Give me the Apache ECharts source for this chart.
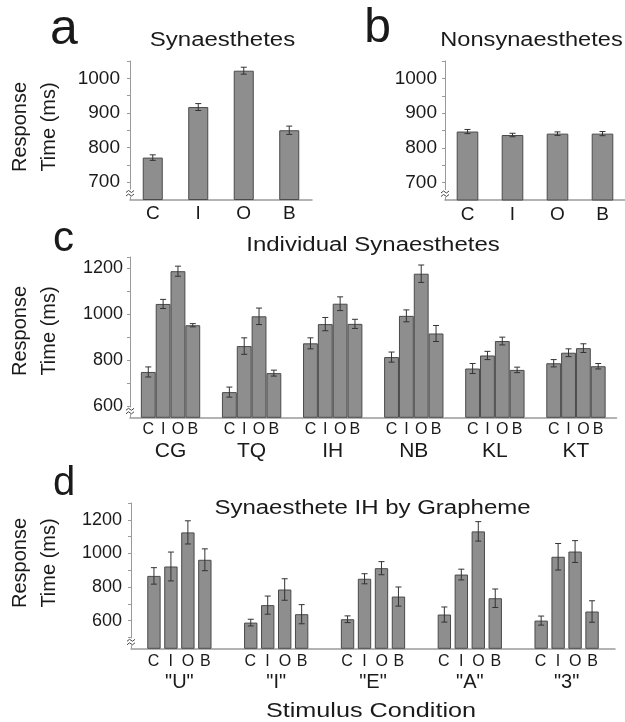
<!DOCTYPE html>
<html><head><meta charset="utf-8">
<script src="https://cdn.jsdelivr.net/npm/echarts@6/dist/echarts.min.js"></script>
<style>html,body{margin:0;padding:0;background:#fff}#c{width:625px;height:722px}</style>
</head><body><div id="c"></div>
<script>
// ---------- data ----------
const conditions = ['C', 'I', 'O', 'B'];
const synMeans = [771, 917, 1022, 850];
const synErrs = [8, 10, 10, 12];
const nonMeans = [847, 837, 841, 841];
const nonErrs = [6, 5, 5, 6];

const individuals = ['CG', 'TQ', 'IH', 'NB', 'KL', 'KT'];
const indMeansC = [748, 660, 873, 813, 763, 786];
const indMeansI = [1045, 861, 957, 993, 820, 832];
const indMeansO = [1188, 991, 1046, 1177, 883, 852];
const indMeansB = [952, 743, 958, 916, 757, 773];
const indErrsC = [22, 22, 24, 22, 22, 16];
const indErrsI = [20, 36, 29, 26, 18, 17];
const indErrsO = [22, 36, 30, 38, 17, 19];
const indErrsB = [7, 13, 20, 35, 12, 12];

const graphemes = ['"U"', '"I"', '"E"', '"A"', '"3"'];
const grMeansC = [866, 588, 608, 636, 600];
const grMeansI = [922, 692, 849, 874, 980];
const grMeansO = [1125, 785, 912, 1131, 1011];
const grMeansB = [962, 638, 743, 733, 654];
const grErrsC = [49, 20, 20, 45, 27];
const grErrsI = [86, 54, 30, 32, 79];
const grErrsO = [69, 64, 39, 58, 65];
const grErrsB = [65, 57, 57, 55, 64];

const ticksAB = [700, 750, 800, 850, 900, 950, 1000, 1050];
const labelsAB = [700, 800, 900, 1000];
const ticksC = [600, 700, 800, 900, 1000, 1100, 1200, 1250];
const labelsC = [600, 800, 1000, 1200];
const ticksD = [500, 600, 700, 800, 900, 1000, 1100, 1200, 1300];
const labelsD = [600, 800, 1000, 1200];

// ---------- styles ----------
const FONT = '"Liberation Sans", Arial, Helvetica, sans-serif';
const TXT = '#1a1a1a';
const BAR_FILL = '#8e8e8e';
const BAR_EDGE = '#4a4a4a';
const ERR_COL = '#333';
const AXIS_COL = '#9a9a9a';

function errorRender(n, frac, gap) {
  return function (params, api) {
    const cat = api.value(0), mean = api.value(1), err = api.value(2), k = api.value(3);
    const band = api.size([1, 0])[0];
    const w = band * frac;
    const off = (k - (n - 1) / 2) * w * (1 + gap);
    const x = api.coord([cat, mean])[0] + off;
    const top = api.coord([cat, mean + err])[1];
    const bot = api.coord([cat, mean - err])[1];
    const cap = 3;
    const st = { stroke: ERR_COL, lineWidth: 1 };
    return { type: 'group', children: [
      { type: 'line', shape: { x1: x, y1: top, x2: x, y2: bot }, style: st },
      { type: 'line', shape: { x1: x - cap, y1: top, x2: x + cap, y2: top }, style: st },
      { type: 'line', shape: { x1: x - cap, y1: bot, x2: x + cap, y2: bot }, style: st }
    ]};
  };
}

function breakRender(params, api) {
  const cs = params.coordSys;
  const x = cs.x, yb = cs.y + cs.height;
  const st = { stroke: '#444', lineWidth: 1, fill: null };
  return { type: 'group', children: [
    { type: 'rect', shape: { x: x - 2, y: yb - 10, width: 4, height: 7 }, style: { fill: '#fff' } },
    { type: 'polyline', shape: { points: [[x - 4, yb - 7], [x - 1.5, yb - 9], [x + 1.5, yb - 7], [x + 4, yb - 9]] }, style: st },
    { type: 'polyline', shape: { points: [[x - 4, yb - 3.5], [x - 1.5, yb - 5.5], [x + 1.5, yb - 3.5], [x + 4, yb - 5.5]] }, style: st }
  ]};
}

function yAxis(gi, min, max, ticks, labels, fs, margin) {
  return {
    gridIndex: gi, type: 'value', min: min, max: max,
    axisLine: { show: true, lineStyle: { color: AXIS_COL, width: 1 } },
    axisTick: { show: true, inside: false, length: 3, customValues: ticks, lineStyle: { color: AXIS_COL } },
    axisLabel: { customValues: labels, fontSize: fs, color: TXT, margin: margin, fontFamily: FONT,
      formatter: v => String(Math.round(v)) },
    splitLine: { show: false }
  };
}

function barStyle() {
  return { color: BAR_FILL, borderColor: BAR_EDGE, borderWidth: 1 };
}

const groupLabelC = conditions.map(c => '{l|' + c + '}').join('');

// error data
const errA = synMeans.map((m, i) => [i, m, synErrs[i], 0]);
const errB = nonMeans.map((m, i) => [i, m, nonErrs[i], 0]);
const indMeans = [indMeansC, indMeansI, indMeansO, indMeansB];
const indErrs = [indErrsC, indErrsI, indErrsO, indErrsB];
const errC = [];
indMeans.forEach((arr, k) => arr.forEach((m, i) => errC.push([i, m, indErrs[k][i], k])));
const grMeans = [grMeansC, grMeansI, grMeansO, grMeansB];
const grErrs = [grErrsC, grErrsI, grErrsO, grErrsB];
const errD = [];
grMeans.forEach((arr, k) => arr.forEach((m, i) => errD.push([i, m, grErrs[k][i], k])));

const FRAC_A = 0.44, FRAC_B = 0.48, FRAC_C = 0.183, GAP_C = 0, FRAC_D = 0.138, GAP_D = 0.27;

const series = [];
series.push({ type: 'bar', xAxisIndex: 0, yAxisIndex: 0, data: synMeans, barWidth: (FRAC_A * 100) + '%', itemStyle: barStyle() });
series.push({ type: 'bar', xAxisIndex: 1, yAxisIndex: 1, data: nonMeans, barWidth: (FRAC_B * 100) + '%', itemStyle: barStyle() });
indMeans.forEach((arr, k) => series.push({
  type: 'bar', name: conditions[k], xAxisIndex: 2, yAxisIndex: 2, data: arr,
  barWidth: (FRAC_C * 100) + '%', barGap: (GAP_C * 100) + '%', itemStyle: barStyle()
}));
grMeans.forEach((arr, k) => series.push({
  type: 'bar', name: conditions[k], xAxisIndex: 3, yAxisIndex: 3, data: arr,
  barWidth: (FRAC_D * 100) + '%', barGap: (GAP_D * 100) + '%', itemStyle: barStyle()
}));
series.push({ type: 'custom', xAxisIndex: 0, yAxisIndex: 0, z: 5, data: errA, encode: { x: 0, y: 1 }, renderItem: errorRender(1, FRAC_A, 0) });
series.push({ type: 'custom', xAxisIndex: 1, yAxisIndex: 1, z: 5, data: errB, encode: { x: 0, y: 1 }, renderItem: errorRender(1, FRAC_B, 0) });
series.push({ type: 'custom', xAxisIndex: 2, yAxisIndex: 2, z: 5, data: errC, encode: { x: 0, y: 1 }, renderItem: errorRender(4, FRAC_C, GAP_C) });
series.push({ type: 'custom', xAxisIndex: 3, yAxisIndex: 3, z: 5, data: errD, encode: { x: 0, y: 1 }, renderItem: errorRender(4, FRAC_D, GAP_D) });
[[0, 700], [1, 700], [2, 600], [3, 600]].forEach(([gi, v]) => series.push({
  type: 'custom', xAxisIndex: gi, yAxisIndex: gi, z: 6, data: [[0, v]], encode: { x: 0, y: 1 }, renderItem: breakRender, clip: false
}));

function xAxisSimple(gi, data) {
  return {
    gridIndex: gi, type: 'category', data: data,
    axisLine: { show: true, onZero: false, lineStyle: { color: AXIS_COL, width: 1.5 } },
    axisTick: { show: false },
    axisLabel: { fontSize: 19, color: TXT, margin: 5, fontFamily: FONT, interval: 0 }
  };
}
function xAxisGrouped(gi, data, lw, lh1, fs1, lh2, fs2, margin) {
  return {
    gridIndex: gi, type: 'category', data: data,
    axisLine: { show: true, onZero: false, lineStyle: { color: AXIS_COL, width: 1.5 } },
    axisTick: { show: false },
    axisLabel: {
      interval: 0, margin: margin, fontFamily: FONT,
      formatter: v => groupLabelC + '\n{g|' + v + '}',
      rich: {
        l: { fontSize: fs1, width: lw, align: 'center', lineHeight: lh1, color: TXT, fontFamily: FONT },
        g: { fontSize: fs2, align: 'center', lineHeight: lh2, color: TXT, fontFamily: FONT }
      }
    }
  };
}

function txt(x, y, text, fs, sx, rot) {
  return {
    type: 'text', x: x, y: y, scaleX: sx || 1, rotation: rot || 0, silent: true,
    style: { text: text, fontSize: fs, fontFamily: FONT, fill: TXT,
      align: 'center', verticalAlign: 'middle', textAlign: 'center', textVerticalAlign: 'middle', lineHeight: fs * 1.45 }
  };
}

const option = {
  animation: false,
  backgroundColor: '#fff',
  textStyle: { fontFamily: FONT },
  grid: [
    { left: 130, top: 61, width: 182, height: 138.5, outerBoundsMode: 'none', containLabel: false },
    { left: 445, top: 61, width: 180, height: 139, outerBoundsMode: 'none', containLabel: false },
    { left: 130, top: 257, width: 486.5, height: 160.3, outerBoundsMode: 'none', containLabel: false },
    { left: 131, top: 503, width: 484, height: 145.3, outerBoundsMode: 'none', containLabel: false }
  ],
  xAxis: [
    xAxisSimple(0, conditions),
    xAxisSimple(1, conditions),
    xAxisGrouped(2, individuals, 14.8, 20, 16, 24, 21, 2),
    xAxisGrouped(3, graphemes, 17.3, 22, 16, 20, 20, 2)
  ],
  yAxis: [
    yAxis(0, 650, 1050, ticksAB, labelsAB, 19, 10),
    yAxis(1, 650, 1050, ticksAB, labelsAB, 19, 8),
    yAxis(2, 550, 1250, ticksC, labelsC, 18, 7),
    yAxis(3, 435, 1300, ticksD, labelsD, 18, 9)
  ],
  series: series,
  graphic: [
    txt(64, 30, 'a', 50),
    txt(377.5, 29, 'b', 48),
    txt(63.5, 239, 'c', 42),
    txt(64, 484, 'd', 40),
    txt(222.5, 40, 'Synaesthetes', 20, 1.2),
    txt(531.5, 40, 'Nonsynaesthetes', 20, 1.18),
    txt(373, 245.5, 'Individual Synaesthetes', 20, 1.2),
    txt(372.5, 508.5, 'Synaesthete IH by Grapheme', 20, 1.2),
    txt(371, 711, 'Stimulus Condition', 21, 1.2),
    txt(35, 127, 'Response\nTime (ms)', 20, 1, Math.PI / 2),
    txt(35, 331, 'Response\nTime (ms)', 20, 1, Math.PI / 2),
    txt(35, 563, 'Response\nTime (ms)', 20, 1, Math.PI / 2)
  ]
};

const chart = echarts.init(document.getElementById('c'), null, { renderer: 'canvas' });
chart.setOption(option);
</script>
</body></html>
